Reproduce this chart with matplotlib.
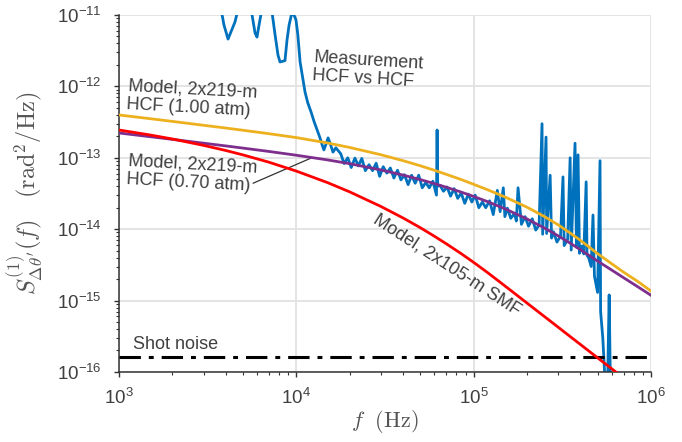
import matplotlib
matplotlib.use("Agg")
import matplotlib.pyplot as plt
from matplotlib.ticker import NullFormatter

plt.rcParams['font.family'] = ['Liberation Sans', 'DejaVu Sans']

freq_meas = [3.72e3, 3.91e3, 4.12e3, 4.28e3, 4.51e3, 4.69e3, 5.14e3, 5.56e3, 5.85e3, 6.00e3,
             6.16e3, 6.41e3, 6.92e3, 7.29e3, 7.59e3, 7.88e3, 8.09e3, 8.41e3, 8.63e3, 8.86e3,
             9.10e3, 9.46e3, 9.70e3, 9.96e3, 1.02e4, 1.05e4, 1.08e4, 1.12e4, 1.16e4, 1.21e4,
             1.26e4, 1.31e4, 1.36e4, 1.40e4, 1.43e4, 1.47e4, 1.51e4, 1.55e4, 1.61e4, 1.67e4,
             1.78e4, 1.86e4, 1.95e4, 2.04e4, 2.14e4, 2.24e4, 2.34e4, 2.45e4, 2.57e4, 2.69e4,
             2.82e4, 2.95e4, 3.09e4, 3.24e4, 3.39e4, 3.55e4, 3.72e4, 3.89e4, 4.07e4, 4.27e4,
             4.47e4, 4.68e4, 4.90e4, 5.13e4, 5.37e4, 5.62e4, 5.89e4, 6.17e4, 6.22e4, 6.27e4,
             6.46e4, 6.76e4, 7.08e4, 7.41e4, 7.76e4, 8.13e4, 8.51e4, 8.91e4, 9.33e4, 9.77e4,
             1.02e5, 1.07e5, 1.12e5, 1.17e5, 1.23e5, 1.29e5, 1.36e5, 1.41e5, 1.47e5, 1.50e5,
             1.55e5, 1.62e5, 1.70e5, 1.74e5, 1.78e5, 1.86e5, 1.95e5, 2.04e5, 2.14e5, 2.24e5,
             2.34e5, 2.43e5, 2.45e5, 2.56e5, 2.58e5, 2.70e5, 2.75e5, 2.82e5, 2.95e5, 3.09e5,
             3.19e5, 3.24e5, 3.39e5, 3.50e5, 3.55e5, 3.73e5, 3.80e5, 3.88e5, 3.95e5, 4.07e5,
             4.18e5, 4.31e5, 4.36e5, 4.45e5, 4.60e5, 4.71e5, 4.80e5, 5.00e5, 5.16e5, 5.20e5,
             5.35e5, 5.50e5, 5.70e5, 5.81e5, 5.90e5]
psd_meas = [1.4e-11, 7.2e-12, 4.6e-12, 5.8e-12, 8.0e-12, 1.2e-11, 1.6e-11, 1.2e-11, 5.6e-12, 4.9e-12,
            7.2e-12, 1.25e-11, 1.6e-11, 1.1e-11, 5.25e-12, 2.75e-12, 2.2e-12, 2.25e-12, 2.3e-12, 4.45e-12,
            7.2e-12, 1.1e-11, 1.0e-11, 8.5e-12, 5.25e-12, 2.2e-12, 1.45e-12, 8.3e-13, 5.9e-13, 4.4e-13,
            3.2e-13, 2.45e-13, 1.9e-13, 1.5e-13, 1.29e-13, 1.55e-13, 1.9e-13, 1.6e-13, 1.2e-13, 1.38e-13,
            1.14e-13, 8.3e-14, 1.0e-13, 7.3e-14, 9.9e-14, 7.7e-14, 9.8e-14, 6.6e-14, 8.0e-14, 6.6e-14,
            8.4e-14, 5.5e-14, 7.5e-14, 6.1e-14, 7.2e-14, 5.2e-14, 6.7e-14, 4.9e-14, 5.8e-14, 4.2e-14,
            5.7e-14, 4.4e-14, 5.7e-14, 3.8e-14, 4.5e-14, 3.8e-14, 4.7e-14, 3.0e-14, 2.45e-13, 4.0e-14,
            4.1e-14, 3.4e-14, 3.9e-14, 2.9e-14, 3.7e-14, 2.7e-14, 3.2e-14, 2.3e-14, 3.1e-14, 2.4e-14,
            3.0e-14, 2.0e-14, 2.4e-14, 2.0e-14, 2.5e-14, 1.6e-14, 3.5e-14, 1.76e-14, 3.8e-14, 1.5e-14,
            1.97e-14, 1.42e-14, 1.67e-14, 1.3e-14, 3.8e-14, 1.17e-14, 1.5e-14, 1.1e-14, 1.4e-14, 9.7e-15,
            1.15e-14, 3.0e-13, 8.5e-15, 1.95e-13, 8.7e-15, 5.7e-14, 7.5e-15, 9.2e-15, 6.6e-15, 8.0e-15,
            5.4e-14, 5.9e-15, 7.2e-15, 1.0e-13, 5.1e-15, 1.6e-13, 5.6e-15, 1.1e-13, 4.6e-15, 5.8e-15,
            4.5e-15, 4.6e-14, 4.3e-15, 4.0e-15, 3.0e-15, 1.58e-14, 2.2e-15, 1.3e-15, 9.1e-14, 7.0e-16,
            3.0e-16, 8.0e-17, 8.0e-17, 1.2e-15, 8.0e-17]

# model curves
freq_model = [1e3, 1.5e3, 2e3, 3e3, 4e3, 5e3, 7e3, 1e4, 1.5e4, 2e4, 3e4, 4e4, 5e4, 6e4, 7e4,
              8.5e4, 1e5, 1.2e5, 1.5e5, 2e5, 2.5e5, 3e5, 3.5e5, 4e5, 5e5, 6e5, 7e5, 8.5e5, 1e6]
psd_hcf_100 = [3.975e-13, 3.527e-13, 3.234e-13, 2.852e-13, 2.61e-13, 2.43e-13, 2.175e-13, 1.918e-13,
               1.613e-13, 1.395e-13, 1.103e-13, 9.11e-14, 7.73e-14, 6.69e-14, 5.87e-14, 4.96e-14,
               4.25e-14, 3.56e-14, 2.83e-14, 2.03e-14, 1.508e-14, 1.15e-14, 8.84e-15, 6.98e-15,
               4.545e-15, 3.284e-15, 2.504e-15, 1.826e-15, 1.361e-15]
psd_hcf_070 = [2.225e-13, 1.973e-13, 1.811e-13, 1.601e-13, 1.466e-13, 1.367e-13, 1.227e-13, 1.086e-13,
               9.34e-14, 8.27e-14, 6.76e-14, 5.72e-14, 4.95e-14, 4.355e-14, 3.87e-14, 3.31e-14,
               2.873e-14, 2.427e-14, 1.933e-14, 1.39e-14, 1.042e-14, 8.06e-15, 6.38e-15, 5.16e-15,
               3.576e-15, 2.679e-15, 2.095e-15, 1.54e-15, 1.186e-15]
freq_smf = [1e3, 1.5e3, 2e3, 3e3, 4e3, 5e3, 7e3, 1e4, 1.5e4, 2e4, 3e4, 4e4, 5e4, 6e4, 7e4,
            8.5e4, 1e5, 1.2e5, 1.5e5, 2e5, 2.5e5, 3e5, 3.5e5, 4e5, 5e5, 6e5, 7e5]
psd_smf = [2.45e-13, 2.085e-13, 1.834e-13, 1.492e-13, 1.265e-13, 1.098e-13, 8.68e-14, 6.51e-14,
           4.49e-14, 3.33e-14, 2.08e-14, 1.435e-14, 1.05e-14, 7.98e-15, 6.26e-15, 4.55e-15,
           3.43e-15, 2.46e-15, 1.607e-15, 9.23e-16, 6.01e-16, 4.23e-16, 3.14e-16, 2.43e-16,
           1.58e-16, 1.112e-16, 8.27e-17]
shot_noise = 1.6e-16

x_ticks = [1e3, 1e4, 1e5, 1e6]
y_ticks = [1e-16, 1e-15, 1e-14, 1e-13, 1e-12, 1e-11]

txt = '#404040'

fig = plt.figure(figsize=(6.82, 4.42), dpi=100)
ax = fig.add_axes([0.1745, 0.1584, 0.780, 0.8077])
ax.set_xscale('log')
ax.set_yscale('log')

ax.plot(freq_meas, psd_meas, color='#0072BD', lw=2.0, zorder=2)
ax.axhline(shot_noise, color='black', lw=2.2, dashes=(7, 2.6, 1.6, 2.6), zorder=3)
ax.plot(freq_model, psd_hcf_100, color='#EDB120', lw=2.0, zorder=4)
ax.plot(freq_model, psd_hcf_070, color='#7E2F8E', lw=2.0, zorder=5)
ax.plot(freq_smf, psd_smf, color='#FF0000', lw=2.0, zorder=6)

ax.set_xlim(1e3, 1e6)
ax.set_ylim(1e-16, 1e-11)
ax.set_xticks(x_ticks)
ax.set_yticks(y_ticks)
ax.xaxis.set_minor_formatter(NullFormatter())
ax.yaxis.set_minor_formatter(NullFormatter())
ax.grid(True, which='major', color='#e2e2e2', lw=1.3)
ax.set_axisbelow(True)
ax.spines['top'].set_visible(False)
ax.spines['right'].set_visible(False)
for s in ['left', 'bottom']:
    ax.spines[s].set_color('#333333')
    ax.spines[s].set_linewidth(1.1)
ax.tick_params(which='both', direction='out', color='#333333', labelcolor=txt, labelsize=13.5)
ax.tick_params(which='major', length=3.5, width=1.0)
ax.tick_params(which='minor', length=2.2, width=0.8)
ax.tick_params(axis='x', pad=8)
ax.tick_params(axis='y', pad=9)

ax.set_xlabel(r'$f\ \ (\mathrm{Hz})$', fontsize=16, color='#555555', math_fontfamily='cm')
ax.set_ylabel(r'$S^{(1)}_{\Delta\theta^{\prime}}(f)\quad(\mathrm{rad}^2/\mathrm{Hz})$', fontsize=17.5,
              color='#555555', math_fontfamily='cm')
ax.xaxis.set_label_coords(0.5, -0.1)
ax.yaxis.set_label_coords(-0.14, 0.5)

ax.text(0.468, 0.846, 'Measurement\nHCF vs HCF', transform=ax.transAxes, fontsize=13, color=txt,
        rotation=-3.5, ha='center', va='center', multialignment='left', linespacing=1.1)
ax.text(0.137, 0.765, 'Model, 2x219-m\nHCF (1.00 atm)', transform=ax.transAxes, fontsize=13, color=txt,
        rotation=-3, ha='center', va='center', multialignment='left', linespacing=1.1)
ax.text(0.137, 0.555, 'Model, 2x219-m\nHCF (0.70 atm)', transform=ax.transAxes, fontsize=13, color=txt,
        rotation=-3, ha='center', va='center', multialignment='left', linespacing=1.1)
ax.text(0.617, 0.30, 'Model, 2x105-m SMF', transform=ax.transAxes, fontsize=13, color=txt,
        rotation=-33, ha='center', va='center')
ax.text(0.026, 0.076, 'Shot noise', transform=ax.transAxes, fontsize=13, color=txt,
        ha='left', va='center')
ax.annotate('', xy=(1.21e4, 9.9e-14), xytext=(5.7e3, 4.4e-14),
            arrowprops=dict(arrowstyle='-', color='#333333', lw=0.9, shrinkA=0, shrinkB=0))

fig.savefig('out.png', dpi=100, facecolor='white')
